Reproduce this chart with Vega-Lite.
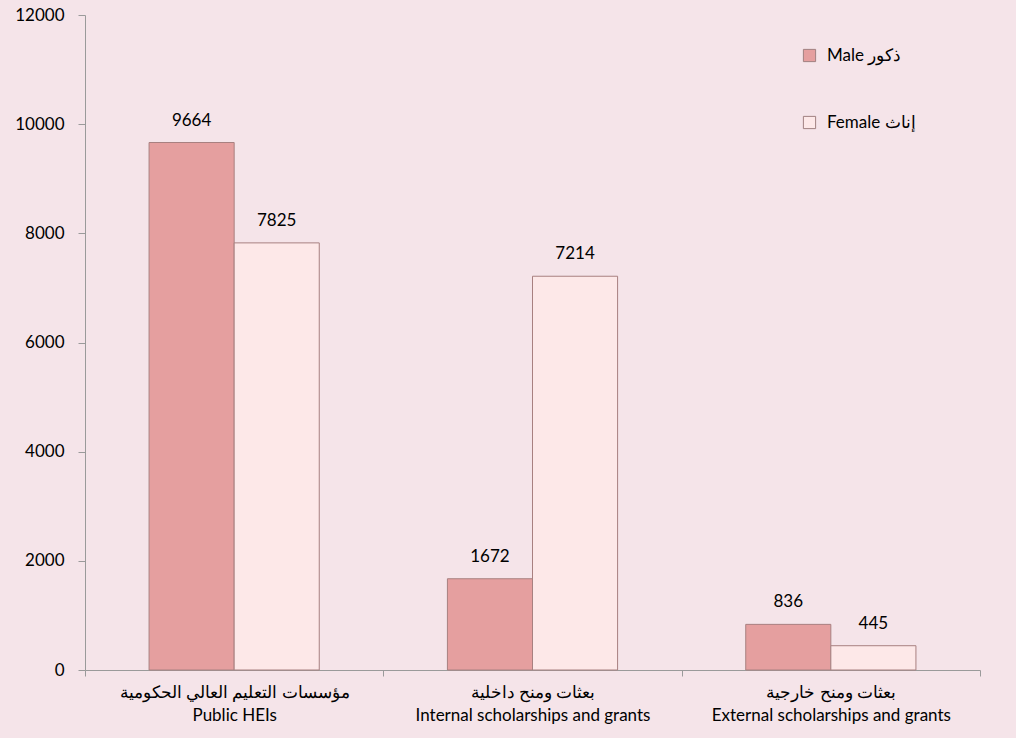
{
  "$schema": "https://vega.github.io/schema/vega-lite/v6.json",
  "width": 895,
  "height": 655,
  "autosize": {"type": "none"},
  "padding": {"left": 85, "top": 15, "right": 36, "bottom": 68},
  "background": "#F5E4E9",
  "config": {
    "view": {"stroke": null},
    "font": "Lato",
    "axis": {"labelFont": "Lato", "labelColor": "#000000", "domainColor": "#9A9A9A", "tickColor": "#9A9A9A"}
  },
  "data": {
    "values": [
      {"category": "مؤسسات التعليم العالي الحكومية|Public HEIs", "gender": "Male ذكور", "value": 9664},
      {"category": "مؤسسات التعليم العالي الحكومية|Public HEIs", "gender": "Female إناث", "value": 7825},
      {"category": "بعثات ومنح داخلية|Internal scholarships and grants", "gender": "Male ذكور", "value": 1672},
      {"category": "بعثات ومنح داخلية|Internal scholarships and grants", "gender": "Female إناث", "value": 7214},
      {"category": "بعثات ومنح خارجية|External scholarships and grants", "gender": "Male ذكور", "value": 836},
      {"category": "بعثات ومنح خارجية|External scholarships and grants", "gender": "Female إناث", "value": 445}
    ]
  },
  "encoding": {
    "x": {
      "field": "category",
      "type": "nominal",
      "sort": ["مؤسسات التعليم العالي الحكومية|Public HEIs", "بعثات ومنح داخلية|Internal scholarships and grants", "بعثات ومنح خارجية|External scholarships and grants"],
      "scale": {"paddingInner": 0, "paddingOuter": 0},
      "axis": {
        "title": null,
        "labelAngle": 0,
        "labelExpr": "split(datum.label, '|')",
        "labelFontSize": 17,
        "labelLineHeight": 23,
        "labelPadding": 8,
        "tickBand": "extent",
        "tickSize": 6,
        "labelLimit": 400
      }
    },
    "xOffset": {
      "field": "gender",
      "type": "nominal",
      "sort": ["Male ذكور", "Female إناث"],
      "scale": {"paddingOuter": 0.753, "paddingInner": 0}
    },
    "y": {
      "field": "value",
      "type": "quantitative",
      "scale": {"domain": [0, 12000]},
      "axis": {
        "title": null,
        "grid": false,
        "values": [0, 2000, 4000, 6000, 8000, 10000, 12000],
        "format": "d",
        "labelFontSize": 17,
        "tickSize": 7,
        "labelPadding": 14
      }
    }
  },
  "layer": [
    {
      "mark": {"type": "bar", "stroke": "#A88080", "strokeWidth": 1},
      "encoding": {
        "color": {
          "field": "gender",
          "type": "nominal",
          "sort": ["Male ذكور", "Female إناث"],
          "scale": {"domain": ["Male ذكور", "Female إناث"], "range": ["#E59F9F", "#FDE8E8"]},
          "legend": {
            "title": null,
            "orient": "none",
            "legendX": 716,
            "legendY": 32,
            "symbolType": "square",
            "symbolSize": 150,
            "symbolStrokeColor": "#A08080",
            "symbolStrokeWidth": 1,
            "labelFontSize": 17,
            "labelFont": "Lato",
            "rowPadding": 49,
            "labelOffset": 9
          }
        }
      }
    },
    {
      "mark": {"type": "text", "baseline": "bottom", "dy": -13, "fontSize": 17, "color": "#000000"},
      "encoding": {"text": {"field": "value", "type": "quantitative"}}
    }
  ]
}
